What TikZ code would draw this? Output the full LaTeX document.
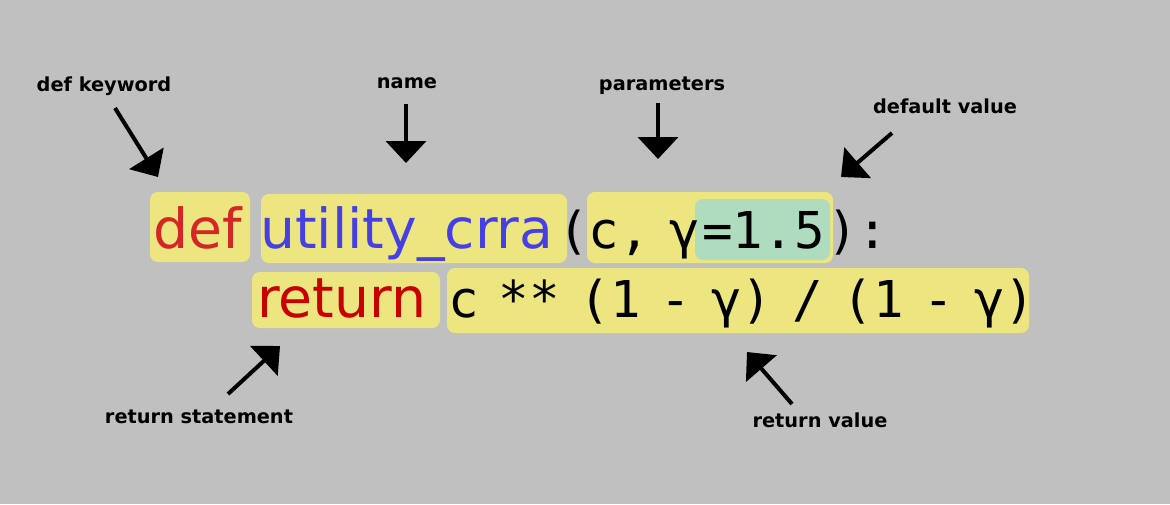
\documentclass[tikz,border=0pt]{standalone}
\usepackage{fontspec}
\setmainfont{DejaVu Sans}
\setmonofont{DejaVu Sans Mono}[WordSpace=0.65]
\definecolor{bggray}{RGB}{192,192,192}
\definecolor{hlyellow}{RGB}{236,229,128}
\definecolor{hlgreen}{RGB}{175,219,191}
\definecolor{kwred}{RGB}{212,38,38}
\definecolor{retred}{RGB}{200,0,0}
\definecolor{fnblue}{RGB}{70,64,228}
\usetikzlibrary{arrows.meta}
\tikzset{
  hlbox/.style={fill=hlyellow, rounded corners=4.5pt},
  codetxt/.style={anchor=base west, inner sep=0pt, font=\fontsize{31.4}{36}\selectfont},
  monotxt/.style={anchor=base west, inner sep=0pt, font=\ttfamily\fontsize{28.9}{33}\selectfont},
  lbl/.style={anchor=base, inner sep=0pt, font=\bfseries\fontsize{11}{13}\selectfont},
  pointer/.style={line width=0.08cm, -{Triangle[length=0.44cm,width=0.8cm]}}
}

\begin{document}
\begin{tikzpicture}[x=0.02cm, y=-0.02cm]
  \fill [bggray] (0,0) rectangle (1170,504);
  \useasboundingbox (0,0) rectangle (1170,504);

  % highlights
  \fill [hlbox] (150,192) rectangle (250,262);
  \fill [hlbox] (261,194) rectangle (567,263);
  \fill [hlbox] (587,192) rectangle (833,263);
  \fill [hlbox, fill=hlgreen] (695,199) rectangle (830,260);
  \fill [hlbox] (252,272) rectangle (440,328);
  \fill [hlbox] (447,268) rectangle (1029,333);

  % code
  \node [codetxt, text=kwred] (defkw) at (153,248) {def};
  \node [codetxt, text=fnblue] (fname) at (260,248) {utility\_crra};
  \node [monotxt] (args) at (558,248) {(c, γ};
  \node [monotxt] (dflt) at (702,248) {=1.5};
  \node [monotxt] (close) at (827,248) {):};
  \node [codetxt, text=retred] (retkw) at (257,317) {return};
  \node [monotxt] (retexpr) at (448,317) {c ** (1 - γ) / (1 - γ)};

  % labels
  \node [lbl] (deflbl) at (104,91) {def keyword};
  \node [lbl] (namelbl) at (407,88) {name};
  \node [lbl] (parlbl) at (662,90) {parameters};
  \node [lbl] (dfltlbl) at (945,113) {default value};
  \node [lbl] (retlbl) at (199,423) {return statement};
  \node [lbl] (retvallbl) at (820,427) {return value};

  % pointers
  \coordinate (def from) at (115,108);  \coordinate (def to) at (158,177);
  \coordinate (name from) at (406,104); \coordinate (name to) at (406,163);
  \coordinate (par from) at (658,103);  \coordinate (par to) at (658,159);
  \coordinate (dflt from) at (892,133); \coordinate (dflt to) at (841,177);
  \coordinate (ret from) at (228,394);  \coordinate (ret to) at (280,346);
  \coordinate (rv from) at (792,404);   \coordinate (rv to) at (747,352);
  \draw [pointer] (def from) -- (def to);
  \draw [pointer] (name from) -- (name to);
  \draw [pointer] (par from) -- (par to);
  \draw [pointer] (dflt from) -- (dflt to);
  \draw [pointer] (ret from) -- (ret to);
  \draw [pointer] (rv from) -- (rv to);

\end{tikzpicture}
\end{document}
